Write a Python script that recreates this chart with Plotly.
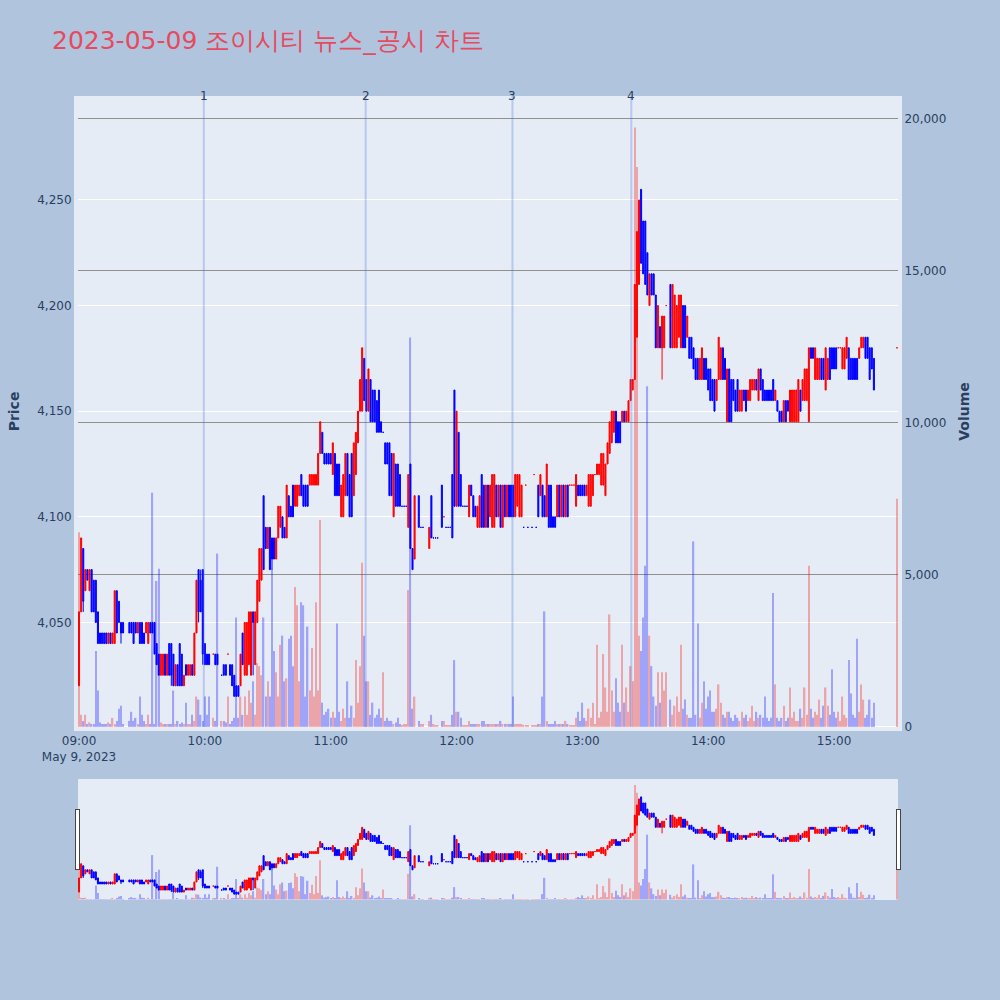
import pandas as pd
import plotly.graph_objects as go

title_text = "2023-05-09 조이시티 뉴스_공시 차트"
news_times = ["2023-05-09 09:59:30", "2023-05-09 11:16:40", "2023-05-09 12:26:40", "2023-05-09 13:23:20"]
news_labels = ["1", "2", "3", "4"]

N = None
opens = [
    4020, 4055, 4085, 4065, 4075, 4065, 4075, 4070, 4070, 4055,
    4045, 4045, 4045, 4045, 4040, 4045, 4040, 4040, 4065, 4060,
    4050, 4050, N, N, 4050, 4050, 4050, 4050, 4045, 4050,
    4050, 4045, 4045, 4040, 4050, 4050, 4050, 4040, 4035, 4025,
    4025, 4035, 4025, 4040, 4040, 4035, 4020, 4030, 4040, 4035,
    4020, 4030, 4025, 4025, 4030, 4025, 4045, 4075, 4070, 4075,
    4040, 4035, 4035, N, 4035, 4035, 4035, N, 4025, 4030,
    4030, 4035, 4030, 4030, 4025, 4020, 4020, 4020, 4045, 4025,
    4025, 4030, 4025, 4055, 4030, 4050, 4060, 4070, 4110, 4095,
    4085, 4095, 4090, 4090, 4080, 4090, 4095, 4100, 4095, 4090,
    4110, 4105, 4115, 4105, 4105, 4110, 4120, 4115, 4115, 4115,
    4115, 4115, 4115, 4115, 4115, 4130, 4140, 4130, 4130, 4130,
    4130, 4120, 4130, 4125, 4125, 4100, 4100, 4110, 4130, 4120,
    4130, 4110, 4120, 4135, 4150, 4150, 4175, 4165, 4150, 4165,
    4160, 4160, 4155, 4160, 4145, 4140, 4135, 4135, 4135, 4130,
    4100, 4125, 4125, 4120, 4105, 4105, 4105, 4095, 4125, 4085,
    4080, N, 4110, 4095, 4095, N, N, 4085, 4110, 4090,
    4090, 4090, N, 4115, 4100, 4095, 4095, 4095, 4120, 4160,
    4105, 4140, 4120, 4105, 4105, 4105, 4100, 4115, 4110, 4105,
    4095, 4095, 4120, 4115, 4095, 4115, 4100, 4095, 4095, 4115,
    4100, 4115, 4095, 4115, 4100, 4115, 4115, 4115, 4100, 4105,
    4100, 4100, 4095, 4115, 4095, N, 4095, 4120, 4095, 4115,
    4110, 4115, 4110, 4100, 4115, 4115, 4100, 4100, 4100, 4115,
    4100, 4115, 4100, 4115, 4115, 4115, 4115, 4105, 4115, 4115,
    4115, 4115, 4110, 4105, 4105, 4110, 4120, 4120, 4120, 4115,
    4115, 4110, 4125, 4130, 4135, 4140, 4150, 4145, 4145, 4145,
    4150, 4145, 4145, 4155, 4160, 4165, 4185, 4210, 4255, 4240,
    4240, 4225, 4200, 4215, 4215, 4205, 4180, 4190, 4180, 4180,
    4200, N, 4210, 4180, 4180, 4180, 4185, 4180, 4200, 4200,
    4185, 4185, 4185, 4180, 4175, 4175, 4165, 4165, 4175, 4175,
    4170, 4170, 4165, 4165, 4155, 4165, 4165, 4180, 4175, 4145,
    4170, 4165, 4165, 4160, 4165, 4150, 4150, 4160, 4160, 4155,
    4155, 4160, 4160, 4165, 4155, 4170, 4165, 4160, 4160, 4160,
    4160, 4165, 4155, 4155, 4150, 4150, 4145, 4155, 4155, 4145,
    4145, 4145, 4145, 4145, 4160, 4155, 4155, 4155, 4145, 4180,
    4180, 4165, 4165, 4165, 4175, 4175, 4160, 4165, 4180, 4180,
    4180, 4180, 4180, 4180, 4170, 4170, 4175, 4180, 4175, 4175,
    4175, 4175, 4175, 4180, 4180, 4185, 4185, 4180, 4180, 4175,
    4180,
]
highs = [
    4055, 4090, 4085, 4075, 4075, 4075, 4075, 4070, 4070, 4055,
    4045, 4045, 4045, 4045, 4045, 4045, 4045, 4065, 4065, 4060,
    4050, 4050, N, N, 4050, 4050, 4050, 4050, 4050, 4050,
    4050, 4045, 4050, 4050, 4050, 4050, 4050, 4040, 4035, 4035,
    4035, 4035, 4035, 4040, 4040, 4035, 4030, 4030, 4040, 4035,
    4025, 4030, 4030, 4030, 4030, 4045, 4070, 4075, 4075, 4075,
    4040, 4035, 4035, N, 4035, 4035, 4035, N, 4025, 4030,
    4030, 4035, 4030, 4030, 4025, 4020, 4020, 4035, 4045, 4050,
    4050, 4055, 4055, 4055, 4055, 4070, 4085, 4085, 4110, 4095,
    4095, 4095, 4090, 4090, 4090, 4105, 4105, 4100, 4095, 4115,
    4110, 4105, 4115, 4115, 4115, 4115, 4120, 4115, 4115, 4115,
    4120, 4120, 4120, 4120, 4130, 4145, 4140, 4130, 4130, 4130,
    4130, 4135, 4130, 4125, 4125, 4115, 4120, 4130, 4130, 4120,
    4130, 4135, 4140, 4150, 4165, 4180, 4175, 4165, 4170, 4165,
    4160, 4160, 4155, 4160, 4145, 4140, 4135, 4135, 4135, 4130,
    4130, 4125, 4125, 4120, 4105, 4105, 4105, 4120, 4125, 4085,
    4110, N, 4110, 4095, 4095, N, N, 4095, 4110, 4090,
    4090, 4090, N, 4115, 4100, 4095, 4095, 4095, 4120, 4160,
    4150, 4140, 4120, 4105, 4105, 4105, 4115, 4115, 4110, 4105,
    4105, 4110, 4120, 4115, 4115, 4115, 4115, 4120, 4120, 4115,
    4115, 4115, 4115, 4115, 4115, 4115, 4115, 4115, 4120, 4120,
    4120, 4115, 4095, 4115, 4095, N, 4095, 4120, 4095, 4115,
    4120, 4115, 4110, 4125, 4115, 4115, 4100, 4100, 4115, 4115,
    4115, 4115, 4115, 4115, 4115, 4115, 4115, 4120, 4115, 4115,
    4115, 4115, 4115, 4120, 4120, 4120, 4120, 4125, 4125, 4130,
    4130, 4125, 4135, 4145, 4150, 4150, 4150, 4145, 4145, 4150,
    4150, 4150, 4155, 4165, 4165, 4210, 4235, 4250, 4255, 4240,
    4240, 4225, 4215, 4215, 4215, 4205, 4200, 4190, 4195, 4195,
    4200, N, 4210, 4210, 4205, 4200, 4205, 4205, 4200, 4200,
    4195, 4185, 4185, 4180, 4175, 4175, 4175, 4180, 4175, 4175,
    4170, 4170, 4165, 4165, 4165, 4185, 4180, 4180, 4175, 4170,
    4170, 4165, 4165, 4160, 4165, 4160, 4160, 4160, 4160, 4160,
    4165, 4165, 4165, 4165, 4170, 4170, 4165, 4160, 4160, 4160,
    4160, 4165, 4160, 4155, 4150, 4150, 4155, 4155, 4155, 4160,
    4160, 4160, 4160, 4165, 4160, 4165, 4170, 4170, 4180, 4180,
    4180, 4180, 4175, 4175, 4175, 4175, 4180, 4175, 4180, 4180,
    4180, 4180, 4180, 4180, 4180, 4180, 4185, 4180, 4175, 4175,
    4175, 4175, 4180, 4185, 4185, 4185, 4185, 4180, 4180, 4175,
    4180,
]
lows = [
    4020, 4055, 4055, 4065, 4070, 4065, 4055, 4055, 4050, 4040,
    4040, 4040, 4040, 4040, 4040, 4040, 4040, 4040, 4045, 4050,
    4040, 4045, N, N, 4045, 4045, 4040, 4045, 4045, 4040,
    4040, 4040, 4045, 4040, 4045, 4045, 4035, 4030, 4025, 4025,
    4025, 4025, 4025, 4025, 4020, 4020, 4020, 4020, 4020, 4020,
    4020, 4025, 4025, 4025, 4025, 4025, 4045, 4050, 4055, 4030,
    4030, 4030, 4030, N, 4035, 4030, 4030, N, 4025, 4025,
    4025, 4035, 4025, 4020, 4015, 4015, 4015, 4020, 4030, 4025,
    4025, 4030, 4025, 4025, 4030, 4050, 4060, 4070, 4075, 4085,
    4085, 4075, 4075, 4080, 4080, 4090, 4095, 4090, 4090, 4090,
    4100, 4100, 4100, 4105, 4105, 4110, 4110, 4105, 4105, 4105,
    4115, 4115, 4115, 4115, 4115, 4130, 4130, 4125, 4125, 4125,
    4125, 4120, 4110, 4110, 4110, 4100, 4100, 4110, 4110, 4100,
    4100, 4110, 4120, 4135, 4150, 4150, 4155, 4150, 4150, 4145,
    4145, 4145, 4140, 4140, 4140, 4140, 4125, 4125, 4110, 4110,
    4100, 4105, 4105, 4105, 4105, 4105, 4105, 4095, 4085, 4075,
    4080, N, 4095, 4095, 4095, N, N, 4085, 4090, 4090,
    4090, 4090, N, 4095, 4100, 4095, 4095, 4095, 4090, 4105,
    4105, 4105, 4105, 4105, 4105, 4105, 4100, 4110, 4100, 4100,
    4095, 4095, 4095, 4095, 4095, 4095, 4100, 4095, 4095, 4100,
    4100, 4095, 4095, 4100, 4100, 4100, 4100, 4100, 4100, 4105,
    4100, 4100, 4095, 4115, 4095, N, 4095, 4120, 4095, 4100,
    4110, 4100, 4100, 4100, 4095, 4095, 4095, 4095, 4100, 4100,
    4100, 4100, 4100, 4100, 4115, 4115, 4115, 4105, 4110, 4110,
    4110, 4110, 4110, 4105, 4105, 4110, 4120, 4120, 4120, 4115,
    4115, 4110, 4125, 4130, 4135, 4140, 4135, 4135, 4135, 4145,
    4145, 4145, 4145, 4155, 4160, 4165, 4185, 4210, 4220, 4215,
    4210, 4205, 4200, 4205, 4205, 4180, 4180, 4180, 4165, 4180,
    4200, N, 4180, 4180, 4180, 4180, 4185, 4180, 4180, 4180,
    4185, 4175, 4175, 4170, 4165, 4165, 4165, 4165, 4165, 4165,
    4160, 4155, 4155, 4150, 4155, 4165, 4165, 4165, 4165, 4145,
    4145, 4145, 4155, 4150, 4150, 4150, 4150, 4155, 4150, 4155,
    4155, 4160, 4160, 4160, 4155, 4160, 4155, 4155, 4155, 4155,
    4155, 4155, 4155, 4150, 4145, 4145, 4145, 4145, 4150, 4145,
    4145, 4145, 4145, 4145, 4150, 4155, 4155, 4155, 4145, 4175,
    4175, 4165, 4165, 4165, 4165, 4165, 4160, 4165, 4165, 4170,
    4170, 4170, 4180, 4180, 4170, 4170, 4175, 4165, 4165, 4165,
    4165, 4165, 4175, 4180, 4180, 4175, 4175, 4165, 4170, 4160,
    4180,
]
closes = [
    4055, 4090, 4060, 4075, 4070, 4075, 4055, 4055, 4050, 4040,
    4040, 4040, 4040, 4040, 4045, 4040, 4045, 4065, 4045, 4050,
    4045, 4045, N, N, 4045, 4045, 4040, 4045, 4050, 4040,
    4040, 4040, 4050, 4050, 4045, 4045, 4035, 4030, 4025, 4035,
    4035, 4025, 4035, 4025, 4025, 4020, 4030, 4020, 4020, 4020,
    4025, 4025, 4030, 4030, 4025, 4045, 4070, 4055, 4055, 4035,
    4030, 4030, 4030, N, 4035, 4030, 4030, N, 4025, 4025,
    4025, 4035, 4025, 4020, 4015, 4015, 4015, 4035, 4030, 4050,
    4050, 4055, 4055, 4050, 4055, 4070, 4085, 4085, 4075, 4085,
    4095, 4075, 4080, 4080, 4090, 4105, 4105, 4090, 4090, 4115,
    4100, 4100, 4100, 4115, 4115, 4115, 4110, 4105, 4105, 4105,
    4120, 4120, 4120, 4120, 4130, 4145, 4130, 4125, 4125, 4125,
    4125, 4135, 4110, 4110, 4110, 4115, 4120, 4130, 4110, 4100,
    4100, 4135, 4140, 4150, 4165, 4180, 4155, 4150, 4170, 4145,
    4145, 4145, 4140, 4140, 4140, 4140, 4125, 4125, 4110, 4110,
    4130, 4105, 4105, 4105, 4105, 4105, 4105, 4120, 4085, 4075,
    4110, N, 4095, 4095, 4095, N, N, 4095, 4090, 4090,
    4090, 4090, N, 4095, 4100, 4095, 4095, 4095, 4090, 4105,
    4150, 4105, 4105, 4105, 4105, 4105, 4115, 4110, 4100, 4100,
    4105, 4110, 4095, 4095, 4115, 4095, 4115, 4120, 4120, 4100,
    4115, 4095, 4115, 4100, 4115, 4100, 4100, 4100, 4120, 4120,
    4120, 4115, 4095, 4115, 4095, N, 4095, 4120, 4095, 4100,
    4120, 4100, 4100, 4125, 4095, 4095, 4095, 4095, 4115, 4100,
    4115, 4100, 4115, 4100, 4115, 4115, 4115, 4120, 4110, 4110,
    4110, 4110, 4115, 4120, 4120, 4120, 4120, 4125, 4125, 4130,
    4130, 4125, 4135, 4145, 4150, 4150, 4135, 4135, 4135, 4150,
    4145, 4150, 4155, 4165, 4165, 4210, 4235, 4250, 4220, 4215,
    4210, 4205, 4215, 4205, 4205, 4180, 4200, 4180, 4195, 4195,
    4200, N, 4180, 4210, 4205, 4200, 4205, 4205, 4180, 4180,
    4195, 4175, 4175, 4170, 4165, 4165, 4175, 4180, 4165, 4165,
    4160, 4155, 4155, 4150, 4165, 4185, 4180, 4165, 4165, 4170,
    4145, 4145, 4155, 4150, 4150, 4160, 4160, 4155, 4150, 4160,
    4165, 4165, 4165, 4160, 4170, 4160, 4155, 4155, 4155, 4155,
    4155, 4155, 4160, 4150, 4145, 4145, 4155, 4145, 4150, 4160,
    4160, 4160, 4160, 4165, 4150, 4165, 4170, 4170, 4180, 4175,
    4175, 4180, 4175, 4175, 4165, 4165, 4180, 4175, 4165, 4170,
    4170, 4170, 4180, 4180, 4180, 4180, 4185, 4165, 4165, 4165,
    4165, 4165, 4180, 4185, 4185, 4175, 4175, 4165, 4170, 4160,
    4180,
]
volumes = [
    6400, 400, 200, 400, 100, 150, 100, 100, 2500, 1200,
    150, 100, 100, 100, 150, 100, 300, 100, 200, 600,
    700, 100, N, N, 200, 500, 200, 300, 100, 1000,
    400, 200, 100, 400, 100, 7700, 100, 4800, 5200, 150,
    100, 100, 100, 100, 100, 1200, 100, 200, 100, 150,
    100, 800, 100, 100, 400, 200, 1000, 900, 400, 200,
    1000, 400, 1000, N, 300, 200, 5700, N, 200, 200,
    150, 1000, 100, 200, 300, 3600, 300, 1000, 400, 1000,
    400, 1200, 800, 1500, 400, 2100, 2000, 1700, 3600, 1000,
    1500, 1000, 5200, 2500, 1800, 1000, 2700, 3000, 1500, 1600,
    2900, 3000, 2000, 4600, 4000, 1500, 4100, 4000, 1000, 3300,
    1200, 2600, 1000, 4100, 1200, 6800, 800, 400, 500, 600,
    300, 500, 300, 3400, 500, 200, 600, 300, 1500, 300,
    700, 300, 2200, 800, 2000, 5400, 3000, 1500, 1500, 400,
    800, 300, 400, 600, 300, 1800, 200, 300, 200, 200,
    100, 150, 300, 100, 50, 100, 100, 4500, 12800, 600,
    1000, N, 200, 100, 100, N, N, 200, 400, 100,
    50, 50, N, 200, 200, 50, 50, 50, 400, 2200,
    500, 500, 300, 50, 50, 50, 200, 100, 100, 100,
    100, 100, 200, 200, 100, 100, 100, 100, 100, 100,
    100, 200, 100, 100, 100, 100, 100, 1000, 100, 100,
    100, 100, 50, 50, 50, N, 50, 50, 50, 100,
    100, 1000, 3800, 200, 100, 100, 100, 200, 100, 100,
    100, 100, 200, 100, 50, 50, 50, 300, 500, 200,
    800, 300, 200, 600, 300, 800, 100, 2700, 300, 500,
    2400, 1300, 500, 3700, 1200, 500, 1600, 800, 500, 2700,
    800, 1300, 500, 2000, 1500, 19700, 18400, 3000, 2500, 3600,
    5300, 11200, 3000, 2000, 1000, 700, 1800, 800, 1800, 1200,
    1800, N, 900, 400, 700, 1000, 500, 2700, 600, 900,
    400, 300, 300, 6100, 400, 3400, 300, 800, 1500, 600,
    1000, 1200, 500, 500, 600, 1400, 800, 400, 300, 500,
    500, 300, 200, 400, 300, 200, 500, 300, 400, 200,
    300, 700, 200, 500, 300, 400, 300, 1000, 300, 200,
    300, 4400, 1400, 300, 200, 300, 700, 200, 300, 1300,
    300, 500, 200, 200, 600, 300, 1300, 400, 5300, 600,
    300, 500, 400, 900, 300, 700, 1300, 700, 400, 1900,
    500, 300, 500, 200, 1000, 400, 300, 2200, 1100, 400,
    300, 2900, 500, 1400, 900, 300, 400, 900, 300, 800,
    7500,
]

times = list(pd.date_range("2023-05-09 09:00", periods=380, freq="min")) + [pd.Timestamp("2023-05-09 15:30")]

vol_colors = []
for o, c in zip(opens, closes):
    if o is None or c is None or c >= o:
        vol_colors.append("red")
    else:
        vol_colors.append("blue")

PLOT_BG = "#E5ECF6"
EDGE = dict(showline=True, linecolor=PLOT_BG, linewidth=4)

fig = go.Figure()
fig.add_trace(go.Candlestick(
    x=times, open=opens, high=highs, low=lows, close=closes,
    increasing=dict(line=dict(color="red", width=1), fillcolor="red"),
    decreasing=dict(line=dict(color="blue", width=1), fillcolor="blue"),
    name="Price", showlegend=False,
))
fig.add_trace(go.Bar(
    x=times, y=volumes, marker=dict(color=vol_colors, line=dict(width=0)),
    width=40000, opacity=0.3, yaxis="y2", name="Volume", showlegend=False,
))

for t, lab in zip(news_times, news_labels):
    fig.add_shape(type="line", xref="x", yref="paper", x0=t, x1=t, y0=0, y1=1,
                  line=dict(color="rgba(65,105,225,0.28)", width=2))
    fig.add_annotation(x=t, y=1, xref="x", yref="paper", text=lab, showarrow=False,
                       yanchor="middle", font=dict(size=12, color="#2a3f5f"))

fig.update_layout(
    width=1000, height=1000,
    font=dict(family="DejaVu Sans", size=12),
    paper_bgcolor="#B0C4DE",
    plot_bgcolor=PLOT_BG,
    margin=dict(l=76, r=102, t=96, b=100),
    title=dict(text=title_text, x=0.052, xanchor="left", y=0.96, yanchor="middle",
               font=dict(size=25, color="#E64A5E")),
    showlegend=False,
    xaxis=dict(
        type="date",
        rangeslider=dict(visible=True),
        **EDGE,
    ),
    yaxis=dict(
        title=dict(text="Price", font=dict(size=14, weight="bold")),
        tickformat=",", range=[4000.5, 4299.2],
        **EDGE,
    ),
    yaxis2=dict(
        title=dict(text="Volume", font=dict(size=14, weight="bold")),
        overlaying="y", side="right", tickformat=",",
        showgrid=True, gridcolor="#909090",
        **EDGE,
    ),
)

fig.write_html("out.html", config={"displayModeBar": False},
               post_script="document.body.style.margin='0px';")
